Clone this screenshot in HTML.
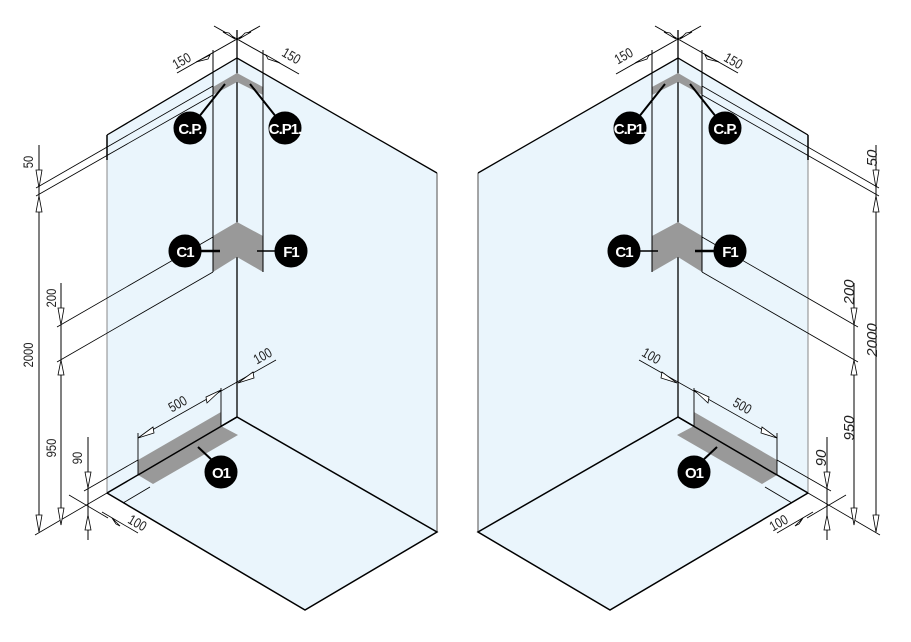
<!DOCTYPE html>
<html><head><meta charset="utf-8"><style>
html,body{margin:0;padding:0;background:#fff;}
svg{display:block}
.t{font-family:"Liberation Sans",sans-serif;font-size:14px;fill:#222}
.r{font-family:"Liberation Sans",sans-serif;font-size:15px;font-style:italic;fill:#222}
.c{font-family:"Liberation Sans",sans-serif;font-weight:bold;font-size:15px;fill:#fff;letter-spacing:-1px}
</style></head><body>
<svg width="911" height="642" viewBox="0 0 911 642" xmlns="http://www.w3.org/2000/svg">
<defs>
<g id="fig" stroke="#000" stroke-width="1">
  <polygon points="107,135 237,58 237,417 107,493" fill="#eaf5fc" stroke="none"/>
  <polygon points="237,58 437,173 437,532 237,417" fill="#eaf5fc" stroke="none"/>
  <polygon points="107,493 237,417 437,532 305,610" fill="#eaf5fc" stroke="none"/>
  <line x1="107" y1="135" x2="107" y2="160" stroke-width="1.5"/>
  <line x1="107" y1="160" x2="107" y2="493" stroke="#888"/>
  <line x1="437" y1="173" x2="437" y2="532" stroke="#888" stroke-width="1.5"/>
  <polyline points="107,135 237,58 437,173" fill="none" stroke-width="1.3"/>
  <polyline points="107,493 237,417 437,532 305,610 107,493" fill="none" stroke-width="1.5"/>
  <line x1="237" y1="30" x2="237" y2="417" stroke-width="1.3"/>
  <polygon points="213,87 237,73 263,87 263,95 237,82 213,95" fill="#999" stroke="none"/>
  <polygon points="213,236 237,222 263,236 263,272 237,257 213,272" fill="#999" stroke="none"/>
  <polygon points="138,460 221,412 221,426 138,475" fill="#999" stroke="none"/>
  <polygon points="138,475 221,426 238,435 153,484" fill="#999" stroke="none"/>
  <line x1="138" y1="475" x2="237" y2="417" stroke-width="1.5"/>
  <line x1="213" y1="50" x2="213" y2="272"/>
  <line x1="263" y1="50" x2="263" y2="272"/>
  <line x1="177" y1="73" x2="260" y2="26"/>
  <line x1="214" y1="26" x2="299" y2="74"/>
  <polygon points="196,62 210,55 208,59" fill="#fff" stroke-width="0.8"/>
  <polygon points="280,63 266,55 268,59" fill="#fff" stroke-width="0.8"/>
  <polygon points="223,32 235,39 229,33" fill="#fff" stroke-width="0.8"/>
  <polygon points="251,32 239,39 245,33" fill="#fff" stroke-width="0.8"/>
  <line x1="213" y1="86" x2="36" y2="188" stroke-width="0.8"/>
  <line x1="213" y1="95" x2="36" y2="196" stroke-width="0.8"/>
  <line x1="213" y1="237" x2="57" y2="327" stroke-width="0.8"/>
  <line x1="213" y1="272" x2="57" y2="362" stroke-width="0.8"/>
  <line x1="138" y1="460" x2="84" y2="491" stroke-width="0.8"/>
  <line x1="107" y1="493" x2="35" y2="535" stroke-width="0.8"/>
  <line x1="39" y1="145" x2="39" y2="532"/>
  <line x1="61" y1="283" x2="61" y2="525"/>
  <line x1="88" y1="437" x2="88" y2="540"/>
  <polygon points="36,170 42,170 39,188" fill="#fff" stroke-width="0.8"/>
  <polygon points="36,212 42,212 39,196" fill="#fff" stroke-width="0.8"/>
  <polygon points="36,515 42,515 39,532" fill="#fff" stroke-width="0.8"/>
  <polygon points="58,308 64,308 61,325" fill="#fff" stroke-width="0.8"/>
  <polygon points="58,375 64,375 61,360" fill="#fff" stroke-width="0.8"/>
  <polygon points="58,508 64,508 61,525" fill="#fff" stroke-width="0.8"/>
  <polygon points="85,472 91,472 88,488" fill="#fff" stroke-width="0.8"/>
  <polygon points="85,530 91,530 88,515" fill="#fff" stroke-width="0.8"/>
  <line x1="69" y1="495" x2="108" y2="518" stroke-width="0.8"/>
  <line x1="138" y1="433" x2="138" y2="475" stroke-width="0.9"/>
  <line x1="221" y1="388" x2="221" y2="426" stroke-width="0.9"/>
  <line x1="138" y1="438" x2="276" y2="360" stroke-width="0.8"/>
  <polygon points="138,438 153,427 154,433" fill="#fff" stroke-width="0.8"/>
  <polygon points="221,390 206,397 207,403" fill="#fff" stroke-width="0.8"/>
  <polygon points="238,383 253,372 254,378" fill="#fff" stroke-width="0.8"/>
  <line x1="102" y1="512" x2="138" y2="533" stroke-width="0.8"/>
  <polygon points="112,518 120,526 116,524" fill="#fff" stroke-width="0.8"/>
  <line x1="123" y1="503" x2="150" y2="487" stroke-width="0.8"/>
  <line x1="198" y1="118" x2="225" y2="84" stroke-width="2"/>
  <line x1="277" y1="118" x2="250" y2="84" stroke-width="2"/>
  <line x1="198" y1="251" x2="220" y2="251" stroke-width="2.5"/>
  <line x1="257" y1="251" x2="276" y2="251" stroke-width="1.5"/>
  <line x1="198" y1="447" x2="214" y2="462" stroke-width="2"/>
  <circle cx="190" cy="128" r="16" fill="#000"/>
  <circle cx="285" cy="128" r="16" fill="#000"/>
  <circle cx="185" cy="251" r="16" fill="#000"/>
  <circle cx="291" cy="251" r="16" fill="#000"/>
  <circle cx="221" cy="472" r="16" fill="#000"/>
</g>
</defs>
<use href="#fig"/>
<use href="#fig" transform="translate(915,0) scale(-1,1)"/>

<text class="c" x="190" y="134" text-anchor="middle" font-size="14">C.P.</text>
<text class="c" x="285" y="134" text-anchor="middle" font-size="13">C.P1.</text>
<text class="c" x="185" y="257" text-anchor="middle">C1</text>
<text class="c" x="291" y="257" text-anchor="middle">F1</text>
<text class="c" x="221" y="478" text-anchor="middle">O1</text>
<text class="t" transform="translate(184,65) rotate(-30) scale(0.8,1)" text-anchor="middle">150</text>
<text class="t" transform="translate(289,60) rotate(30) scale(0.8,1)" text-anchor="middle">150</text>
<text class="t" transform="translate(33,162) rotate(-90) scale(0.8,1)" text-anchor="middle">50</text>
<text class="t" transform="translate(56,298) rotate(-90) scale(0.8,1)" text-anchor="middle">200</text>
<text class="t" transform="translate(33,355) rotate(-90) scale(0.8,1)" text-anchor="middle">2000</text>
<text class="t" transform="translate(56,448) rotate(-90) scale(0.8,1)" text-anchor="middle">950</text>
<text class="t" transform="translate(82,458) rotate(-90) scale(0.8,1)" text-anchor="middle">90</text>
<text class="t" transform="translate(180,408) rotate(-30) scale(0.8,1)" text-anchor="middle">500</text>
<text class="t" transform="translate(265,360) rotate(-30) scale(0.8,1)" text-anchor="middle">100</text>
<text class="t" transform="translate(135,527) rotate(30) scale(0.8,1)" text-anchor="middle">100</text>

<text class="c" x="630" y="134" text-anchor="middle" font-size="13">C.P1.</text>
<text class="c" x="725" y="134" text-anchor="middle" font-size="14">C.P.</text>
<text class="c" x="624" y="257" text-anchor="middle">C1</text>
<text class="c" x="730" y="257" text-anchor="middle">F1</text>
<text class="c" x="694" y="478" text-anchor="middle">O1</text>
<text class="t" transform="translate(626,60) rotate(-30) scale(0.8,1)" text-anchor="middle">150</text>
<text class="t" transform="translate(731,65) rotate(30) scale(0.8,1)" text-anchor="middle">150</text>
<text class="r" transform="translate(877,158) rotate(-90)" text-anchor="middle">50</text>
<text class="r" transform="translate(854,292) rotate(-90)" text-anchor="middle">200</text>
<text class="r" transform="translate(877,340) rotate(-90)" text-anchor="middle">2000</text>
<text class="r" transform="translate(854,428) rotate(-90)" text-anchor="middle">950</text>
<text class="r" transform="translate(826,458) rotate(-90)" text-anchor="middle">90</text>
<text class="t" transform="translate(740,410) rotate(30) scale(0.8,1)" text-anchor="middle">500</text>
<text class="t" transform="translate(649,360) rotate(30) scale(0.8,1)" text-anchor="middle">100</text>
<text class="t" transform="translate(781,527) rotate(-30) scale(0.8,1)" text-anchor="middle">100</text>
</svg>
</body></html>
